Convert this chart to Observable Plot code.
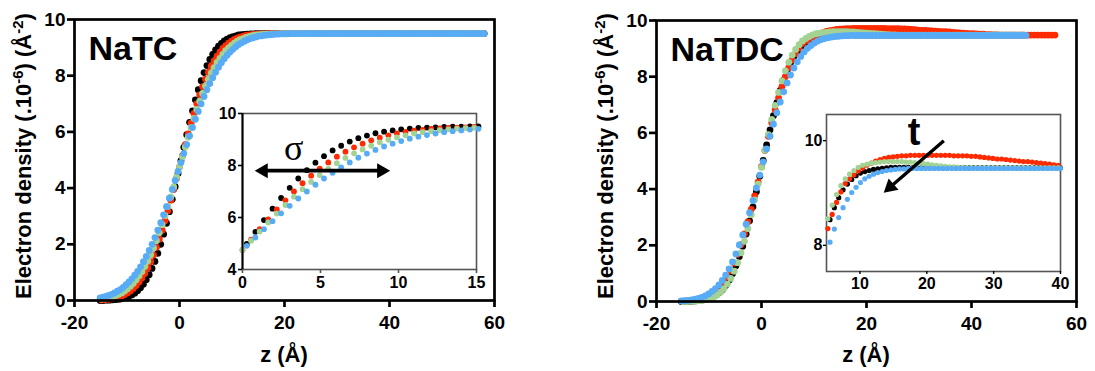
<!DOCTYPE html>
<html><head><meta charset="utf-8">
<script src="https://cdn.jsdelivr.net/npm/d3@7"></script>
<script src="https://cdn.jsdelivr.net/npm/@observablehq/plot@0.6"></script>
<style>
body{margin:0;background:#fff;overflow:hidden;}
#fig{position:relative;width:1095px;height:371px;background:#fff;}
#fig svg{position:absolute;overflow:visible;}
</style></head><body><div id="fig"></div>
<script>
// ---------- DATA ----------
const seriesNames = ["black", "red", "green", "blue"];
const xTicksMain = [-20, 0, 20, 40, 60];
const yTicksMain = [0, 2, 4, 6, 8, 10];
const xTicksInsetNaTC = [0, 5, 10, 15];
const yTicksInsetNaTC = [4, 6, 8, 10];
const xTicksInsetNaTDC = [10, 20, 30, 40];
const yTicksInsetNaTDC = [8, 10];

// NaTC: z sampled every 0.55 Å from the start value of each series
const natcStep = 0.55;
const natcStart = {black: -15.125, red: -14.85, green: -14.85, blue: -15.125};
const natcBlack = [0.00,0.00,0.01,0.01,0.02,0.03,0.04,0.05,0.08,0.11,
0.15,0.20,0.26,0.35,0.45,0.58,0.74,0.92,1.14,1.39,
1.68,2.00,2.36,2.75,3.16,3.60,4.05,4.52,
4.98,5.45,5.90,6.34,6.75,7.14,7.50,7.82,8.11,8.36,
8.58,8.76,8.92,9.05,9.15,9.24,9.30,9.35,9.39,9.42,
9.45,9.46,9.47,9.48,9.49,9.49,
9.5,9.5,9.5,9.5,9.5,9.5,9.5,9.5,9.5,9.5,
9.5,9.5,9.5,9.5,9.5,9.5,9.5,9.5,9.5,9.5,
9.5,9.5,9.5,9.5,9.5,9.5,9.5,9.5,9.5,9.5,
9.5,9.5,9.5,9.5,9.5,9.5,9.5,9.5,9.5,9.5,
9.5,9.5,9.5,9.5,9.5,9.5,9.5,9.5,9.5,9.5,
9.5,9.5,9.5,9.5,9.5,9.5,9.5,9.5,9.5,9.5,
9.5,9.5,9.5,9.5,9.5,9.5,9.5,9.5,9.5,9.5,
9.5,9.5,9.5,9.5,9.5,9.5,9.5,9.5,9.5,9.5];
const natcRed = [0.02,0.03,0.04,0.05,0.07,0.09,0.13,0.16,0.21,0.27,
0.34,0.43,0.53,0.66,0.80,0.97,1.16,1.38,1.62,1.89,
2.18,2.50,2.84,3.19,3.57,3.95,4.35,
4.75,5.15,5.55,5.93,6.31,6.66,7.00,7.32,7.61,7.88,
8.12,8.34,8.53,8.70,8.84,8.97,9.07,9.16,9.23,9.29,
9.34,9.37,9.41,9.43,9.45,9.46,9.47,9.48,9.49,9.49,9.49,
9.5,9.5,9.5,9.5,9.5,9.5,9.5,9.5,9.5,9.5,
9.5,9.5,9.5,9.5,9.5,9.5,9.5,9.5,9.5,9.5,
9.5,9.5,9.5,9.5,9.5,9.5,9.5,9.5,9.5,9.5,
9.5,9.5,9.5,9.5,9.5,9.5,9.5,9.5,9.5,9.5,
9.5,9.5,9.5,9.5,9.5,9.5,9.5,9.5,9.5,9.5,
9.5,9.5,9.5,9.5,9.5,9.5,9.5,9.5,9.5,9.5,
9.5,9.5,9.5,9.5,9.5,9.5,9.5,9.5,9.5,9.5,
9.5,9.5,9.5,9.5,9.5];
const natcGreen = [0.05,0.06,0.08,0.11,0.14,0.18,0.22,0.27,0.34,0.42,
0.51,0.61,0.74,0.88,1.03,1.21,1.41,1.63,1.87,2.13,
2.41,2.70,3.02,3.35,3.69,4.04,4.39,
4.75,5.11,5.46,5.81,6.15,6.48,6.80,7.09,7.37,7.63,
7.87,8.09,8.29,8.47,8.62,8.76,8.89,8.99,9.08,9.16,
9.23,9.28,9.32,9.36,9.39,9.42,9.44,9.45,9.46,9.47,
9.48,9.48,9.49,9.49,9.49,
9.5,9.5,9.5,9.5,9.5,9.5,9.5,9.5,9.5,9.5,
9.5,9.5,9.5,9.5,9.5,9.5,9.5,9.5,9.5,9.5,
9.5,9.5,9.5,9.5,9.5,9.5,9.5,9.5,9.5,9.5,
9.5,9.5,9.5,9.5,9.5,9.5,9.5,9.5,9.5,9.5,
9.5,9.5,9.5,9.5,9.5,9.5,9.5,9.5,9.5,9.5,
9.5,9.5,9.5,9.5,9.5,9.5,9.5,9.5,9.5,9.5,
9.5,9.5,9.5,9.5,9.5,9.5,9.5,9.5,9.5,9.5,9.5];
const natcBlue = [0.09,0.12,0.15,0.18,0.22,0.27,0.33,0.39,0.47,0.56,
0.66,0.77,0.90,1.04,1.20,1.38,1.57,1.78,2.00,2.24,
2.50,2.77,3.05,3.34,3.64,3.95,4.27,4.59,
4.91,5.23,5.55,5.86,6.16,6.45,6.73,7.00,7.26,7.50,
7.72,7.93,8.12,8.30,8.46,8.60,8.73,8.84,8.94,9.03,
9.11,9.17,9.23,9.28,9.32,9.35,9.38,9.41,9.42,9.44,
9.45,9.46,9.47,9.48,9.48,9.49,9.49,9.49,
9.5,9.5,9.5,9.5,9.5,9.5,9.5,9.5,9.5,9.5,
9.5,9.5,9.5,9.5,9.5,9.5,9.5,9.5,9.5,9.5,
9.5,9.5,9.5,9.5,9.5,9.5,9.5,9.5,9.5,9.5,
9.5,9.5,9.5,9.5,9.5,9.5,9.5,9.5,9.5,9.5,
9.5,9.5,9.5,9.5,9.5,9.5,9.5,9.5,9.5,9.5,
9.5,9.5,9.5,9.5,9.5,9.5,9.5,9.5,9.5,9.5,
9.5,9.5,9.5,9.5,9.5,9.5,9.5,9.5];

// NaTDC: z sampled every 0.65 Å from the start value of each series
const natdcStep = 0.65;
const natdcStart = {black: -15.275, red: -14.95, green: -14.95, blue: -15.275};
const natdcBlack = [0.00,0.00,0.01,0.01,0.02,0.03,0.05,0.07,0.10,0.15,
0.22,0.31,0.42,0.57,0.76,0.99,1.27,1.60,1.97,2.40,
2.87,3.37,3.91,4.46,
5.02,5.57,6.11,6.61,7.08,7.51,7.88,8.21,8.49,8.72,
8.91,9.06,9.17,9.26,9.33,9.38,9.41,9.43,9.45,9.46,
9.47,9.48,9.49,9.49,9.49,9.49,9.49,9.48,
9.48,9.48,9.48,9.48,9.48,9.48,9.48,9.48,9.48,9.48,
9.48,9.48,9.48,9.48,9.48,9.48,9.48,9.48,9.48,9.48,
9.48,9.48,9.48,9.48,9.48,9.48,9.48,9.48,9.48,9.48,
9.48,9.48,9.48,9.48,9.48,9.48,9.48,9.48,9.48,9.48,
9.48,9.48,9.48,9.48,9.48,9.48,9.48,9.48,9.48];
const natdcRed = [0.01,0.02,0.03,0.04,0.06,0.08,0.11,0.16,0.22,0.30,
0.40,0.53,0.69,0.88,1.10,1.37,1.68,2.02,2.41,2.83,
3.28,3.76,4.25,
4.80,5.37,5.88,6.36,6.82,7.25,7.65,8.00,8.32,8.59,
8.82,9.02,9.18,9.27,9.35,9.42,9.48,9.53,9.57,9.61,
9.64,9.66,9.68,9.69,9.70,9.71,9.71,9.72,9.72,
9.72,9.72,9.72,9.72,9.72,9.72,9.72,9.72,
9.71,9.71,9.71,9.71,
9.70,9.70,9.69,9.68,9.67,9.66,9.65,9.65,9.64,9.63,
9.62,9.61,9.60,9.60,9.59,9.58,9.57,9.56,9.55,9.54,
9.53,9.53,9.52,9.51,9.51,9.50,9.50,9.49,9.49,
9.48,9.48,9.48,9.48,9.48,9.48,9.48,9.48,9.48,9.48,
9.48,9.48,9.48,9.48,9.48,9.48,9.48];
const natdcGreen = [0.00,0.00,0.01,0.01,0.02,0.03,0.05,0.07,0.11,0.16,
0.23,0.33,0.46,0.62,0.82,1.08,1.38,1.73,2.14,2.59,
3.09,3.62,4.18,
4.77,5.38,5.94,6.48,6.98,7.44,7.85,8.21,8.51,8.77,
8.97,9.14,9.27,9.36,9.43,9.49,9.53,9.55,9.57,9.58,
9.59,9.60,9.60,9.60,9.60,9.60,9.59,9.59,9.58,9.57,
9.56,9.55,9.54,9.53,9.52,9.51,9.50,9.50,9.49,9.49,9.48,
9.48,9.48,9.48,9.48,9.48,9.48,9.48,9.48,9.48,9.48,
9.48,9.48,9.48,9.48,9.48,9.48,9.48,9.48,9.48,9.48,
9.48,9.48,9.48,9.48,9.48,9.48,9.48,9.48,9.48,9.48,
9.48,9.48,9.48,9.48,9.48,9.48,9.48];
const natdcBlue = [0.02,0.03,0.04,0.06,0.08,0.11,0.15,0.20,0.27,0.36,
0.46,0.59,0.75,0.94,1.16,1.41,1.69,2.01,2.37,2.75,
3.16,3.59,4.04,4.50,
4.97,5.43,5.88,6.31,6.72,7.10,7.46,7.78,8.06,8.31,
8.53,8.72,8.88,9.01,9.11,9.20,9.27,9.32,9.36,9.39,
9.41,9.43,9.44,9.45,9.46,9.46,9.47,
9.47,9.47,9.47,9.47,9.47,9.47,9.47,9.47,9.47,9.47,
9.47,9.47,9.47,9.47,9.47,9.47,9.47,9.47,9.47,9.47,
9.47,9.47,9.47,9.47,9.47,9.47,9.47,9.47,9.47,9.47,
9.47,9.47,9.47,9.47,9.47,9.47,9.47,9.47,9.47,9.47,
9.47,9.47,9.47,9.47,9.47,9.47,9.47,9.47,9.47,9.47,9.47];

// Inset annotations (data units of each inset)
const sigmaLabel = [{x: 3.28, y: 8.66, label: "σ"}];
const sigmaShaft = [{x1: 1.34, y1: 7.8, x2: 8.91, y2: 7.8}];
const sigmaHeads = [{x: 1.34, y: 7.8, rot: -90}, {x: 8.91, y: 7.8, rot: 90}];
const tLabel = [{x: 18.1, y: 10.15, label: "t"}];
const tShaft = [{x1: 22.55, y1: 10.0, x2: 14.54, y2: 9.116}];
const tHeads = [{x: 14.54, y: 9.116, rot: -131}];

// ---------- STYLE ----------
const FONT = '"Liberation Sans", Arial, Helvetica, sans-serif';
const colors = {black: "#000000", red: "#ff2a00", green: "#a3d393", blue: "#58acf6"};

function buildRows(values, start, step) {
  const out = [];
  for (const s of seriesNames) {
    values[s].forEach((v, i) => out.push({s, z: +(start[s] + i * step).toFixed(3), rho: v}));
  }
  return out;
}
const natcRows = buildRows({black: natcBlack, red: natcRed, green: natcGreen, blue: natcBlue}, natcStart, natcStep);
const natdcRows = buildRows({black: natdcBlack, red: natdcRed, green: natdcGreen, blue: natdcBlue}, natdcStart, natdcStep);

const fig = document.getElementById("fig");

function place(svg, left, top) {
  svg.style.left = left + "px";
  svg.style.top = top + "px";
  fig.appendChild(svg);
  return svg;
}

function mainPlot(rows, title, marginTop) {
  return Plot.plot({
    width: 520, height: 371,
    marginLeft: 74, marginRight: 26, marginTop: marginTop, marginBottom: 371 - 300 - (marginTop - 19),
    x: {domain: [-20, 60]},
    y: {domain: [0, 10]},
    style: {fontFamily: FONT, fontSize: "19px", fontWeight: "bold", background: "transparent", color: "black"},
    marks: [
      ...seriesNames.map(s => Plot.dot(rows.filter(d => d.s === s), {x: "z", y: "rho", r: 3.4, fill: colors[s]})),
      Plot.frame({stroke: "black", strokeWidth: 2.7}),
      Plot.axisX({ticks: xTicksMain, tickSize: 7, tickPadding: 8, strokeWidth: 2.7, fontSize: 19, fontWeight: "bold", tickFormat: d => String(d), label: null}),
      Plot.axisY({ticks: yTicksMain, tickSize: 7, tickPadding: 2, strokeWidth: 2.7, fontSize: 19, fontWeight: "bold", tickFormat: d => String(d), label: null}),
      Plot.text([title], {text: d => d, frameAnchor: "top-left", dx: 14, dy: 16, lineAnchor: "top", textAnchor: "start", fontSize: 34, fontWeight: "bold", fill: "black"})
    ]
  });
}

function addLabels(svg) {
  const sel = d3.select(svg);
  const t = sel.append("text")
    .attr("transform", "translate(31,156) rotate(-90)")
    .attr("text-anchor", "middle").attr("font-size", 22).attr("font-weight", "bold")
    .attr("font-family", FONT).attr("fill", "#000");
  t.append("tspan").text("Electron density (.10");
  t.append("tspan").attr("dy", -8).attr("font-size", 15).text("-6");
  t.append("tspan").attr("dy", 8).text(") (Å");
  t.append("tspan").attr("dy", -8).attr("font-size", 15).text("-2");
  t.append("tspan").attr("dy", 8).text(")");
  sel.append("text")
    .attr("x", 284).attr("y", 362)
    .attr("text-anchor", "middle").attr("font-size", 22).attr("font-weight", "bold")
    .attr("font-family", FONT).attr("fill", "#000")
    .text("z (Å)");
}

// Left main panel
const leftMain = place(mainPlot(natcRows, "NaTC", 19), 0, 0);
addLabels(leftMain);
// Right main panel
const rightMain = place(mainPlot(natdcRows, "NaTDC", 20), 582, 0);
addLabels(rightMain);

const insetStyle = {fontFamily: FONT, fontSize: "16px", fontWeight: "bold", background: "transparent", color: "black"};

// Left inset (NaTC)
const leftInsetRows = natcRows.filter(d => d.z >= -0.1 && d.z <= 15.15 && d.rho >= 4 && d.rho <= 10);
place(Plot.plot({
  width: 290, height: 200, marginLeft: 40, marginRight: 16, marginTop: 10, marginBottom: 34,
  x: {domain: [0, 15]}, y: {domain: [4, 10]},
  style: insetStyle,
  marks: [
    Plot.frame({fill: "white", stroke: "#555", strokeWidth: 1.6}),
    ...seriesNames.map(s => Plot.dot(leftInsetRows.filter(d => d.s === s), {x: "z", y: "rho", r: 2.9, fill: colors[s]})),
    Plot.ruleX([0], {stroke: "black", strokeWidth: 2}),
    Plot.axisX({ticks: xTicksInsetNaTC, tickSize: 4, tickPadding: 3, strokeWidth: 1.6, stroke: "#555", fontSize: 16, fontWeight: "bold", tickFormat: d => String(d), label: null}),
    Plot.axisY({ticks: yTicksInsetNaTC, tickSize: 4, tickPadding: 2, strokeWidth: 1.6, fontSize: 16, fontWeight: "bold", tickFormat: d => String(d), label: null}),
    Plot.link(sigmaShaft, {x1: "x1", y1: "y1", x2: "x2", y2: "y2", stroke: "black", strokeWidth: 3.8}),
    Plot.dot(sigmaHeads, {x: "x", y: "y", rotate: "rot", symbol: "triangle", r: 5.6, fill: "black"}),
    Plot.text(sigmaLabel, {x: "x", y: "y", text: "label", fontSize: 36, fontWeight: "normal", fontFamily: '"Liberation Serif", "DejaVu Serif", serif', fill: "black"})
  ]
}), 202, 103);

// Right inset (NaTDC)
const rightInsetRows = natdcRows.filter(d => d.z >= 4.9 && d.z <= 40.1 && d.rho >= 7.45 && d.rho <= 10.5);
place(Plot.plot({
  width: 300, height: 200, marginLeft: 50, marginRight: 16, marginTop: 10, marginBottom: 33,
  x: {domain: [5, 40]}, y: {domain: [7.5, 10.5]},
  style: insetStyle,
  marks: [
    Plot.frame({fill: "white", stroke: "#555", strokeWidth: 1.6}),
    ...seriesNames.map(s => Plot.dot(rightInsetRows.filter(d => d.s === s), {x: "z", y: "rho", r: 2.6, fill: colors[s]})),
    Plot.axisX({ticks: xTicksInsetNaTDC, tickSize: 3, tickPadding: 3, strokeWidth: 1.4, fontSize: 16, fontWeight: "bold", tickFormat: d => String(d), label: null}),
    Plot.axisY({ticks: yTicksInsetNaTDC, tickSize: 3, tickPadding: 1, strokeWidth: 1.4, fontSize: 16, fontWeight: "bold", tickFormat: d => String(d), label: null}),
    Plot.link(tShaft, {x1: "x1", y1: "y1", x2: "x2", y2: "y2", stroke: "black", strokeWidth: 3.4}),
    Plot.dot(tHeads, {x: "x", y: "y", rotate: "rot", symbol: "triangle", r: 5.6, fill: "black"}),
    Plot.text(tLabel, {x: "x", y: "y", text: "label", fontSize: 38, fontWeight: "bold", fill: "black"})
  ]
}), 776, 104);
</script>
</body></html>
